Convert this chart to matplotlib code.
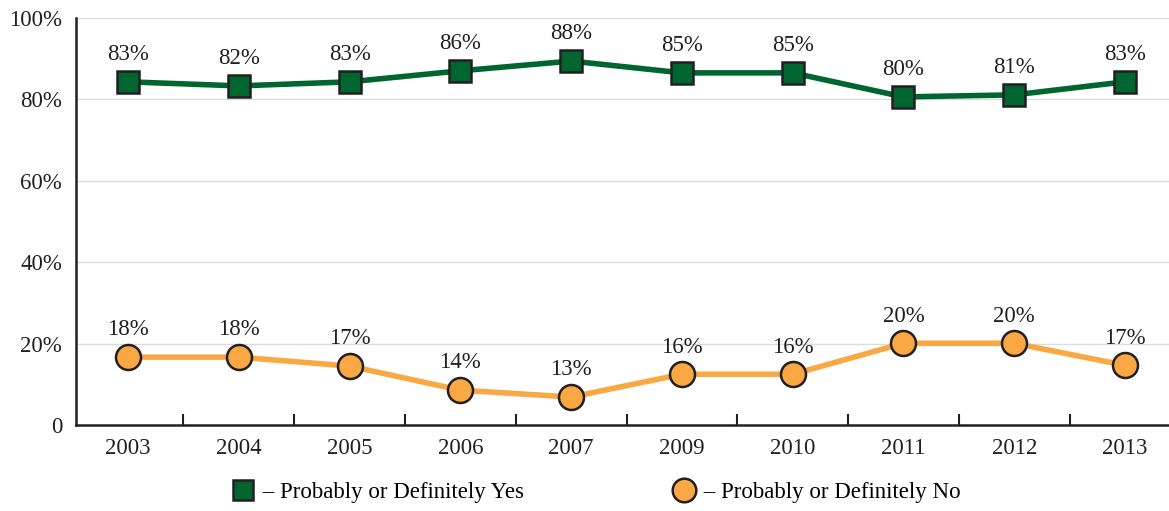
import matplotlib
matplotlib.use("Agg")
import matplotlib.pyplot as plt
from matplotlib.lines import Line2D

years = ["2003", "2004", "2005", "2006", "2007", "2009", "2010", "2011", "2012", "2013"]
# plotted positions as drawn in the source chart
yes_vals = [84.3, 83.3, 84.3, 87.0, 89.4, 86.5, 86.5, 80.6, 81.1, 84.3]
no_vals = [16.7, 16.7, 14.5, 8.6, 6.9, 12.5, 12.5, 20.1, 20.1, 14.7]
# printed labels
yes_labels = ["83%", "82%", "83%", "86%", "88%", "85%", "85%", "80%", "81%", "83%"]
no_labels = ["18%", "18%", "17%", "14%", "13%", "16%", "16%", "20%", "20%", "17%"]

green = "#00662f"
orange = "#f9a844"
edge = "#231f20"

plt.rcParams['font.family'] = ['Liberation Serif', 'DejaVu Serif']
fs = 16.5

fig = plt.figure(figsize=(11.69, 5.11), dpi=100)
ax = fig.add_axes([0.065, 0.168, 0.94, 0.797])

x = list(range(len(years)))
ax.plot(x, yes_vals, color=green, lw=4, marker='s', ms=16, mfc=green,
        mec=edge, mew=1.8, zorder=3)
ax.plot(x, no_vals, color=orange, lw=4, marker='o', ms=18, mfc=orange,
        mec=edge, mew=1.8, zorder=3)

for i in x:
    ax.annotate(yes_labels[i], (i, yes_vals[i]), xytext=(0, 12), textcoords='offset points',
                ha='center', va='bottom', fontsize=fs, color=edge)
    ax.annotate(no_labels[i], (i, no_vals[i]), xytext=(0, 12), textcoords='offset points',
                ha='center', va='bottom', fontsize=fs, color=edge)

ax.set_xlim(-0.47, 9.45)
ax.set_ylim(0, 100)
ax.set_yticks([0, 20, 40, 60, 80, 100])
ax.set_yticklabels(["0", "20%", "40%", "60%", "80%", "100%"], fontsize=fs, color=edge)
ax.set_xticks(x)
ax.set_xticklabels(years, fontsize=fs, color=edge)
ax.tick_params(axis='x', length=0, pad=9)
ax.tick_params(axis='y', length=0, pad=10)
# boundary ticks pointing up
ax.set_xticks([i + 0.5 for i in range(len(years) - 1)], minor=True)
ax.tick_params(axis='x', which='minor', direction='in', length=8, width=1.5, color=edge)

for v in [20, 40, 60, 80, 100]:
    ax.axhline(v, color='#dcdcdc', lw=1, zorder=1)

for s in ['top', 'right']:
    ax.spines[s].set_visible(False)
for s in ['left', 'bottom']:
    ax.spines[s].set_color(edge)
    ax.spines[s].set_linewidth(1.8)

handles = [
    Line2D([], [], ls='none', marker='s', ms=15, mfc=green, mec=edge, mew=1.8),
    Line2D([], [], ls='none', marker='o', ms=17, mfc=orange, mec=edge, mew=1.8),
]
fig.legend(handles, [" \u2013 Probably or Definitely Yes", " \u2013 Probably or Definitely No"],
           loc='lower center', bbox_to_anchor=(0.51, -0.025), ncol=2, frameon=False,
           fontsize=fs, handletextpad=0.1, columnspacing=6.5, handlelength=1.0)

fig.savefig("out.png", dpi=100)
